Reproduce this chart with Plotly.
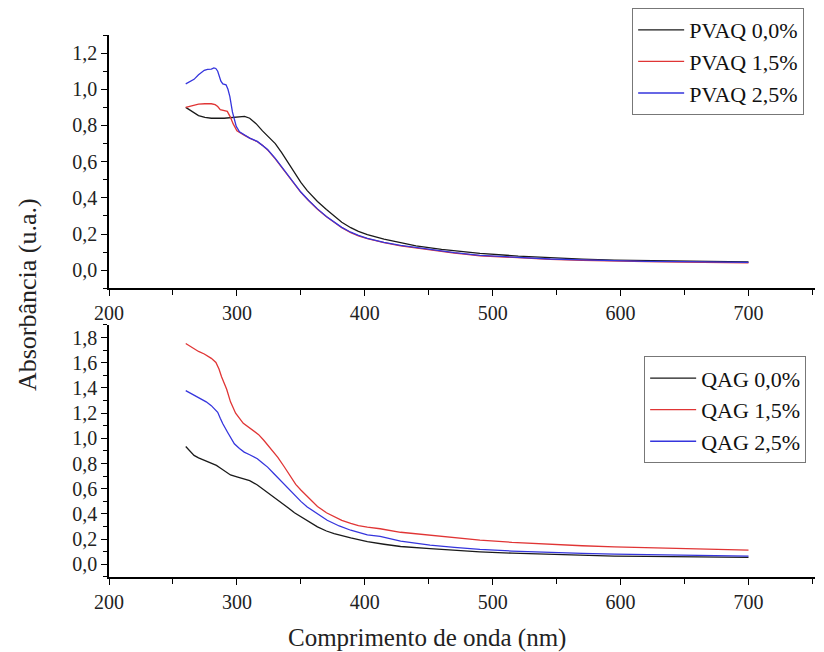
import plotly.graph_objects as go

# ---------------- data ----------------
# Top panel: PVAQ
wl_pvaq0 = [260, 265, 270, 275, 280, 290, 300, 306, 310, 315, 320, 325, 330, 335, 340, 345, 350, 355, 363, 370,
            376, 382, 389, 395, 402, 415, 428, 440, 460, 490, 520, 545, 570, 595, 620, 647, 675, 700]
abs_pvaq0 = [0.90, 0.875, 0.855, 0.845, 0.84, 0.84, 0.845, 0.85, 0.84, 0.81, 0.77, 0.735, 0.70, 0.65, 0.595, 0.535,
             0.485, 0.44, 0.38, 0.335, 0.30, 0.265, 0.235, 0.215, 0.197, 0.172, 0.152, 0.135, 0.115, 0.093, 0.078,
             0.068, 0.061, 0.056, 0.053, 0.05, 0.048, 0.046]

wl_pvaq15 = [260, 265, 270, 275, 280, 283, 285, 287, 290, 292.5, 295, 297, 300, 303, 306, 310, 316, 320, 324, 330,
             334, 340, 345, 350, 356, 363, 370, 376, 382, 389, 395, 402, 415, 428, 450, 470, 490, 520, 545, 570,
             595, 620, 647, 675, 700]
abs_pvaq15 = [0.90, 0.91, 0.918, 0.92, 0.92, 0.915, 0.905, 0.888, 0.883, 0.878, 0.845, 0.81, 0.77, 0.755, 0.745,
              0.73, 0.71, 0.69, 0.665, 0.615, 0.578, 0.525, 0.475, 0.43, 0.385, 0.337, 0.295, 0.263, 0.235, 0.208,
              0.19, 0.174, 0.152, 0.135, 0.112, 0.095, 0.08, 0.068, 0.06, 0.055, 0.05, 0.047, 0.045, 0.043, 0.041]

wl_pvaq25 = [260, 263, 266.5, 270, 274.5, 277, 280, 282, 283.5, 285, 286.5, 287.5, 289, 291.5, 293, 294.5, 296.5,
             298, 299.5, 302, 306, 310, 316, 320, 324, 330, 334, 340, 345, 350, 356, 363, 370, 376, 382, 389, 395,
             402, 415, 428, 450, 470, 490, 520, 545, 570, 595, 620, 647, 675, 700]
abs_pvaq25 = [1.03, 1.04, 1.055, 1.08, 1.105, 1.11, 1.112, 1.118, 1.115, 1.10, 1.07, 1.045, 1.03, 1.025, 1.0, 0.96,
              0.875, 0.83, 0.795, 0.765, 0.748, 0.73, 0.712, 0.692, 0.667, 0.618, 0.58, 0.527, 0.478, 0.432, 0.387,
              0.339, 0.297, 0.265, 0.237, 0.21, 0.192, 0.176, 0.154, 0.137, 0.114, 0.097, 0.082, 0.07, 0.062,
              0.057, 0.052, 0.049, 0.047, 0.045, 0.043]

# Bottom panel: QAG
wl_qag0 = [260, 263, 266.5, 270, 274.5, 280, 284, 287, 290, 295, 300, 305.7, 310, 316, 320, 324, 330, 334, 340, 345,
           350, 356, 363, 370, 376, 389, 402, 415, 428, 451, 470, 490, 515, 543, 570, 595, 620, 647, 675, 700]
abs_qag0 = [0.936, 0.90, 0.865, 0.845, 0.825, 0.805, 0.786, 0.765, 0.745, 0.71, 0.695, 0.68, 0.665, 0.63, 0.60,
            0.574, 0.53, 0.495, 0.45, 0.41, 0.377, 0.34, 0.298, 0.265, 0.245, 0.21, 0.18, 0.16, 0.142, 0.125, 0.112,
            0.10, 0.089, 0.079, 0.072, 0.066, 0.063, 0.06, 0.057, 0.055]

wl_qag15 = [260, 265, 270, 274.5, 280, 283.6, 286, 288, 290, 292, 295, 299, 305, 309, 313.5, 317, 321, 326, 332, 337,
            342, 346, 350, 356, 363, 370, 376, 382, 389, 395, 402, 412, 428, 451, 470, 490, 515, 543, 570, 595, 620,
            647, 675, 700]
abs_qag15 = [1.753, 1.72, 1.69, 1.67, 1.635, 1.603, 1.55, 1.49, 1.44, 1.39, 1.29, 1.20, 1.12, 1.09, 1.062, 1.03,
             0.985, 0.925, 0.85, 0.775, 0.695, 0.635, 0.59, 0.53, 0.46, 0.41, 0.378, 0.35, 0.325, 0.307, 0.295,
             0.283, 0.255, 0.232, 0.21, 0.193, 0.175, 0.16, 0.148, 0.139, 0.133, 0.127, 0.12, 0.113]

wl_qag25 = [260, 266, 272, 276, 280, 285, 287, 289, 292.7, 296, 298, 302, 305.7, 310, 316, 320, 324, 329, 334, 340,
            345, 350, 355, 363, 370.6, 380, 389, 402, 412, 428, 451, 470, 490, 515, 543, 570, 595, 620, 647, 675, 700]
abs_qag25 = [1.379, 1.345, 1.313, 1.29, 1.26, 1.207, 1.16, 1.116, 1.049, 0.99, 0.957, 0.92, 0.891, 0.87, 0.839,
             0.805, 0.772, 0.72, 0.667, 0.60, 0.548, 0.50, 0.456, 0.40, 0.35, 0.305, 0.271, 0.235, 0.222, 0.185,
             0.153, 0.135, 0.119, 0.106, 0.095, 0.087, 0.081, 0.077, 0.074, 0.07, 0.066]

names_top = ["PVAQ 0,0%", "PVAQ 1,5%", "PVAQ 2,5%"]
names_bot = ["QAG 0,0%", "QAG 1,5%", "QAG 2,5%"]
colors = ["#1a1a1a", "#e03535", "#3535dd"]

# ---------------- figure ----------------
FONT = "Liberation Serif, Times New Roman, serif"
fig = go.Figure()

top = [(wl_pvaq0, abs_pvaq0), (wl_pvaq15, abs_pvaq15), (wl_pvaq25, abs_pvaq25)]
bot = [(wl_qag0, abs_qag0), (wl_qag15, abs_qag15), (wl_qag25, abs_qag25)]

for (x, y), n, c in zip(top, names_top, colors):
    fig.add_trace(go.Scatter(x=x, y=y, name=n, mode="lines", line=dict(color=c, width=1.3),
                             xaxis="x", yaxis="y", legend="legend"))
for (x, y), n, c in zip(bot, names_bot, colors):
    fig.add_trace(go.Scatter(x=x, y=y, name=n, mode="lines", line=dict(color=c, width=1.3),
                             xaxis="x2", yaxis="y2", legend="legend2"))

axis_common = dict(showline=True, linecolor="black", linewidth=1.5, ticks="outside", ticklen=6, tickwidth=1.3,
                   tickcolor="black", showgrid=False, zeroline=False, mirror=False, automargin=False,
                   tickfont=dict(family=FONT, size=20, color="#222222"))

xcommon = dict(axis_common, range=[200, 752], tick0=200, dtick=100,
               minor=dict(ticks="outside", ticklen=5, tickwidth=1.3, tickcolor="black", dtick=50, tick0=200))

# The page body adds an 8px offset; the figure is sized so that it fits the 824x652 window.
fig.update_layout(
    width=816, height=644,
    paper_bgcolor="white", plot_bgcolor="white",
    separators=", ",
    margin=dict(l=101, r=9, t=0, b=75, autoexpand=False),
    font=dict(family=FONT, color="#222222"),
    xaxis=dict(xcommon, domain=[0, 1], anchor="y"),
    yaxis=dict(axis_common, domain=[0.5074, 0.9525], range=[-0.1, 1.3], tick0=0, dtick=0.2, tickformat=".1f",
               anchor="x",
               minor=dict(ticks="outside", ticklen=4, tickwidth=1.3, tickcolor="black", dtick=0.1, tick0=0)),
    xaxis2=dict(xcommon, domain=[0, 1], anchor="y2"),
    yaxis2=dict(axis_common, domain=[0, 0.4429], range=[-0.1, 1.9], tick0=0, dtick=0.2, tickformat=".1f",
                anchor="x2",
                minor=dict(ticks="outside", ticklen=4, tickwidth=1.3, tickcolor="black", dtick=0.1, tick0=0)),
    legend=dict(x=0.741, y=1.0, xanchor="left", yanchor="top", bordercolor="#777777", borderwidth=1,
                bgcolor="white", font=dict(family=FONT, size=22, color="#111111"), tracegroupgap=0, itemwidth=46),
    legend2=dict(x=0.758, y=0.388, xanchor="left", yanchor="top", bordercolor="#777777", borderwidth=1,
                 bgcolor="white", font=dict(family=FONT, size=22, color="#111111"), tracegroupgap=0, itemwidth=46),
    showlegend=True,
)

fig.add_annotation(text="Absorbância (u.a.)", xref="paper", yref="paper", x=-0.116, y=0.4956, xanchor="center",
                   yanchor="middle", textangle=-90, showarrow=False, font=dict(family=FONT, size=26, color="#222222"))
fig.add_annotation(text="Comprimento de onda (nm)", xref="paper", yref="paper", x=0.451, y=-0.1072,
                   xanchor="center", yanchor="middle", showarrow=False,
                   font=dict(family=FONT, size=25, color="#222222"))

fig.write_html("out.html")
